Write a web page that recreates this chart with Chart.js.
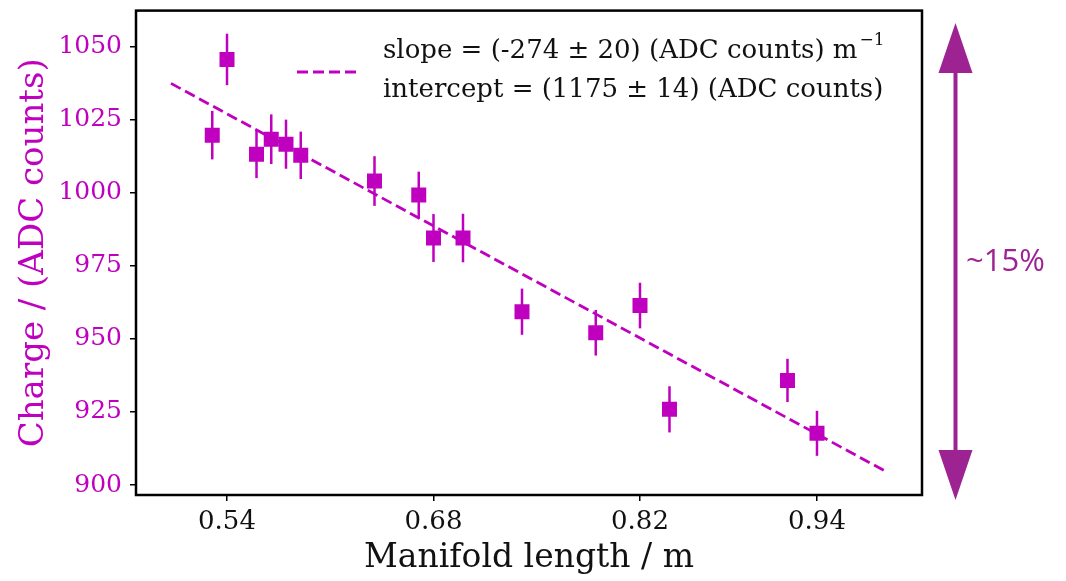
<!DOCTYPE html>
<html>
<head>
<meta charset="utf-8">
<script src="https://cdn.jsdelivr.net/npm/chart.js@4"></script>
<style>
  html, body { margin: 0; padding: 0; background: #fff; }
  #wrap { width: 1066px; height: 581px; }
</style>
</head>
<body>
<div id="wrap"><canvas id="chart" width="1066" height="581"></canvas></div>
<script>
/* global Chart */

// measured points
const manifoldLength = [0.53, 0.54, 0.56, 0.57, 0.58, 0.59, 0.64, 0.67, 0.68, 0.70, 0.74, 0.79, 0.82, 0.84, 0.92, 0.94];
const charge = [1019.7, 1045.6, 1013.2, 1018.3, 1016.6, 1012.8, 1004.0, 999.2, 984.5, 984.5, 959.3, 952.1, 961.4, 925.9, 935.8, 917.7];
const chargeErr = [8.3, 8.8, 8.2, 8.5, 8.4, 8.1, 8.5, 8.0, 8.2, 8.3, 7.9, 7.8, 7.8, 7.9, 7.4, 7.7];

// linear fit, end points as drawn
const fitX = [0.502, 0.988];
const fitY = [1037.4, 904.3];

const xTicks = [0.54, 0.68, 0.82, 0.94];
const yTicks = [900, 925, 950, 975, 1000, 1025, 1050];

const legendLines = ['slope = (-274 \u00b1 20) (ADC counts) m', 'intercept = (1175 \u00b1 14) (ADC counts)'];

const MAG = '#bf00bf';
const ARROW = '#9e2392';
const SERIF = '"DejaVu Serif", serif';

const errorBars = {
  id: 'errorBars',
  beforeDatasetsDraw(chart) {
    const {ctx, scales: {x, y}} = chart;
    ctx.save();
    ctx.strokeStyle = MAG;
    ctx.lineWidth = 2.5;
    manifoldLength.forEach((v, i) => {
      const px = x.getPixelForValue(v);
      ctx.beginPath();
      ctx.moveTo(px, y.getPixelForValue(charge[i] - chargeErr[i]));
      ctx.lineTo(px, y.getPixelForValue(charge[i] + chargeErr[i]));
      ctx.stroke();
    });
    ctx.restore();
  }
};

const frameAndNotes = {
  id: 'frameAndNotes',
  afterDraw(chart) {
    const {ctx, chartArea: a} = chart;
    ctx.save();
    // frame
    ctx.strokeStyle = '#000';
    ctx.lineWidth = 2.5;
    ctx.strokeRect(a.left, a.top, a.right - a.left, a.bottom - a.top);

    // legend
    ctx.strokeStyle = MAG;
    ctx.lineWidth = 2.8;
    ctx.setLineDash([11, 5]);
    ctx.beginPath();
    ctx.moveTo(297, 72);
    ctx.lineTo(358, 72);
    ctx.stroke();
    ctx.setLineDash([]);
    ctx.fillStyle = '#111';
    ctx.font = '26px ' + SERIF;
    ctx.textBaseline = 'middle';
    ctx.textAlign = 'left';
    ctx.fillText(legendLines[0], 383, 51);
    const w = ctx.measureText(legendLines[0]).width;
    ctx.font = '17px ' + SERIF;
    ctx.fillText('\u22121', 383 + w + 2, 41);
    ctx.font = '26px ' + SERIF;
    ctx.fillText(legendLines[1], 383, 90);

    // ~15% arrow
    ctx.strokeStyle = ARROW;
    ctx.fillStyle = ARROW;
    ctx.lineWidth = 4;
    ctx.beginPath();
    ctx.moveTo(955.5, 70);
    ctx.lineTo(955.5, 452);
    ctx.stroke();
    ctx.beginPath();
    ctx.moveTo(955.5, 23);
    ctx.lineTo(972.5, 73);
    ctx.lineTo(938.5, 73);
    ctx.closePath();
    ctx.fill();
    ctx.beginPath();
    ctx.moveTo(955.5, 500);
    ctx.lineTo(972.5, 450);
    ctx.lineTo(938.5, 450);
    ctx.closePath();
    ctx.fill();
    ctx.font = '31px "Open Sans", sans-serif';
    ctx.fillText('~15%', 966, 262);
    ctx.restore();
  }
};

new Chart(document.getElementById('chart').getContext('2d'), {
  type: 'scatter',
  data: {
    datasets: [
      {
        type: 'line',
        data: fitX.map((v, i) => ({x: v, y: fitY[i]})),
        borderColor: MAG,
        borderWidth: 2.8,
        borderDash: [11, 5],
        pointRadius: 0,
        fill: false
      },
      {
        data: manifoldLength.map((v, i) => ({x: v, y: charge[i]})),
        backgroundColor: MAG,
        borderWidth: 0,
        pointStyle: 'rect',
        pointRadius: 10.6
      }
    ]
  },
  options: {
    responsive: false,
    animation: false,
    layout: {padding: {left: 0, right: 144, top: 9, bottom: 0}},
    plugins: {legend: {display: false}, tooltip: {enabled: false}},
    scales: {
      x: {
        type: 'linear',
        min: 0.4783,
        max: 1.0112,
        afterBuildTicks: s => { s.ticks = xTicks.map(v => ({value: v})); },
        afterFit: s => { s.height = 86; s.paddingLeft = 0; s.paddingRight = 0; },
        grid: {drawOnChartArea: false, tickLength: 6, color: '#000', lineWidth: 1.5},
        border: {display: false},
        ticks: {color: '#111', padding: 6, font: {family: SERIF, size: 26}, callback: v => v.toFixed(2)},
        title: {display: true, text: 'Manifold length / m', color: '#111', padding: {top: 0, bottom: 3}, font: {family: SERIF, size: 33}}
      },
      y: {
        min: 896.6,
        max: 1062.3,
        afterBuildTicks: s => { s.ticks = yTicks.map(v => ({value: v})); },
        afterFit: s => { s.width = 136; s.paddingTop = 0; s.paddingBottom = 0; },
        grid: {drawOnChartArea: false, tickLength: 6, color: '#000', lineWidth: 1.5},
        border: {display: false},
        ticks: {color: MAG, padding: 8, font: {family: SERIF, size: 25}, callback: v => String(v)},
        title: {display: true, text: 'Charge / (ADC counts)', color: MAG, padding: {top: 14, bottom: 0}, font: {family: SERIF, size: 34}}
      }
    }
  },
  plugins: [errorBars, frameAndNotes]
});
</script>
</body>
</html>
